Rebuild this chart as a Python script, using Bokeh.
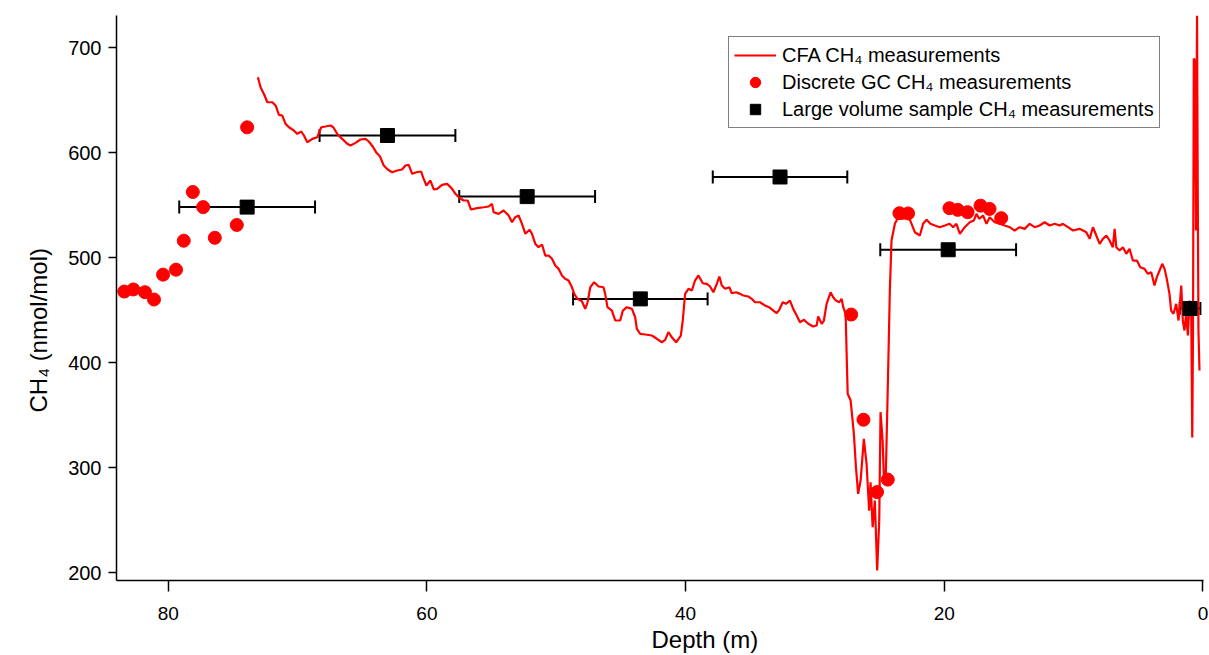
from bokeh.plotting import figure
from bokeh.models import (ColumnDataSource, Range1d, FixedTicker, Legend, LegendItem,
                          Whisker, TeeHead, Title)
from bokeh.embed import file_html
from bokeh.resources import INLINE

# --- CFA continuous CH4 record (depth in m, CH4 in nmol/mol) ---
cfa_depth = [
    73.07, 72.86, 72.55, 72.34, 71.95, 71.70, 71.44, 71.18, 70.93, 70.67,
    70.29, 70.02, 69.71, 69.51, 69.25, 68.86, 68.48, 68.17, 67.84, 67.45,
    67.24, 66.89, 66.55, 66.16, 65.91, 65.52, 65.14, 64.75, 64.49, 64.15,
    63.90, 63.64, 63.34, 63.03, 62.69, 62.30, 61.92, 61.66, 61.41, 61.14,
    60.81, 60.45, 60.25, 60.04, 59.73, 59.47, 59.21, 58.83, 58.44, 58.05,
    57.80, 57.54, 57.16, 56.85, 56.59, 56.12,
    55.61, 55.23, 54.97, 54.84, 54.46, 54.07, 53.68, 53.42, 53.17, 52.91,
    52.65, 52.39, 52.06, 51.88, 51.62, 51.37, 51.10, 50.85, 50.59, 50.33,
    50.08, 49.82, 49.56, 49.31, 49.05, 48.79, 48.61, 48.36, 48.02, 47.76,
    47.58, 47.37, 47.07, 46.73, 46.35, 46.22, 46.04, 45.70, 45.44, 45.06,
    44.85, 44.54, 44.15, 43.90, 43.77, 43.51, 43.13, 42.61, 42.22, 41.84,
    41.58, 41.33, 41.07, 40.73, 40.37, 40.22, 40.04, 39.78, 39.52, 39.27,
    39.01,
    38.67, 38.36, 38.11, 37.85, 37.59, 37.39, 37.20, 36.95, 36.62, 36.43,
    36.10, 35.79, 35.54, 35.15, 34.89, 34.63, 34.25, 33.86, 33.47, 33.22,
    32.96, 32.76, 32.49, 32.24, 31.93, 31.68, 31.41, 31.16, 30.85, 30.52,
    30.13, 29.87, 29.75, 29.48, 29.31, 29.10, 28.79, 28.59, 28.38, 28.12,
    27.94, 27.81, 27.63, 27.47, 27.24, 27.09, 26.99, 26.83, 26.66, 26.47,
    26.22, 26.01, 25.88, 25.81, 25.70, 25.54, 25.37, 25.19, 25.03, 24.93,
    24.77, 24.67, 24.52, 24.34, 24.21, 24.08,
    23.82, 23.57, 23.18, 22.80, 22.53, 22.28, 21.89, 21.64, 21.37, 21.07,
    20.73, 20.35, 19.96, 19.58, 19.32, 19.06, 18.80, 18.42, 18.03, 17.72,
    17.51, 17.31, 17.00, 16.74, 16.49, 16.10, 15.71, 15.33, 14.94, 14.56,
    14.17, 13.78, 13.40, 13.01, 12.63, 12.24, 11.85, 11.47, 11.08,
    10.83, 10.44, 10.05, 9.54, 9.02, 8.76, 8.51, 8.25, 7.99, 7.74,
    7.47, 7.22, 6.97, 6.83, 6.70, 6.45, 6.19, 5.93, 5.68, 5.42,
    5.11, 4.85, 4.52, 4.26, 4.00, 3.75, 3.57, 3.36, 3.15, 2.97,
    2.80, 2.59, 2.46, 2.28, 2.07, 1.89, 1.68, 1.56, 1.43, 1.30,
    1.17, 1.04, 0.91, 0.83, 0.77, 0.71, 0.62, 0.54, 0.46, 0.40,
    0.35, 0.27,
]
cfa_ch4 = [
    671.7, 662.2, 654.3, 647.9, 647.9, 644.8, 635.9, 635.2, 627.3, 624.1,
    621.0, 617.8, 620.0, 616.2, 609.8, 613.0, 614.6, 624.1, 624.8, 625.7,
    624.1, 616.9, 613.0, 608.3, 606.7, 609.2, 612.4, 613.0, 610.5, 605.0,
    599.7, 596.5, 587.6, 583.8, 581.2, 582.9, 583.8, 587.6, 588.3, 579.7,
    581.2, 581.9, 574.9, 568.6, 573.3, 564.8, 565.4, 569.2, 570.2, 565.4,
    560.7, 557.4, 554.3, 554.3, 545.7, 547.0,
    547.9, 548.6, 551.1, 543.1, 541.6, 544.8, 540.0, 533.6, 538.4, 540.0,
    532.1, 522.6, 526.4, 522.6, 513.0, 509.8, 512.4, 501.9, 501.9, 498.8,
    492.4, 489.2, 482.9, 479.7, 478.1, 471.7, 465.4, 460.7, 458.4, 451.1,
    457.4, 471.7, 476.5, 472.4, 471.7, 465.4, 452.7, 449.5, 440.0, 440.0,
    449.5, 452.7, 451.1, 443.1, 432.1, 427.3, 426.7, 425.7, 422.6, 419.3,
    421.6, 428.9, 424.1, 419.3, 425.7, 440.0, 465.4, 470.2, 468.6, 478.1,
    482.9,
    475.5, 474.9, 472.4, 466.9, 474.9, 481.9, 473.3, 470.2, 471.7, 466.0,
    466.9, 465.4, 463.8, 462.9, 460.7, 457.4, 457.4, 454.3, 452.1, 449.5,
    447.0, 450.2, 457.4, 455.9, 459.0, 451.1, 444.8, 438.4, 440.7, 436.9,
    434.3, 435.2, 443.8, 436.9, 440.0, 455.9, 466.9, 462.2, 459.0, 457.4,
    460.7, 452.7, 446.4, 370.2, 363.8, 344.8, 332.1, 300.3, 274.9, 287.6,
    327.3, 303.5, 274.9, 259.0, 286.0, 243.1, 268.6, 201.9, 249.5, 352.7,
    325.7, 290.8, 294.0, 392.4, 468.6, 516.2,
    532.1, 538.4, 536.9, 540.0, 532.1, 524.1, 521.0, 532.1, 535.9, 532.1,
    530.5, 528.9, 530.5, 532.1, 528.9, 532.1, 522.6, 528.9, 533.6, 535.2,
    541.6, 536.9, 540.0, 532.1, 538.4, 533.6, 532.1, 530.5, 528.9, 525.7,
    528.9, 527.3, 532.1, 528.9, 530.5, 533.6, 530.5, 532.1, 530.5,
    532.1, 528.9, 525.7, 527.3, 524.1, 517.8, 528.9, 521.0, 513.0, 517.8,
    521.0, 516.2, 509.8, 527.3, 509.8, 506.7, 509.8, 503.5, 508.3, 497.1,
    497.1, 490.8, 489.2, 484.5, 486.0, 473.3, 481.2, 487.6, 494.0, 489.2,
    479.7, 465.4, 449.5, 446.4, 455.9, 440.0, 473.3, 440.0, 430.5, 446.4,
    425.7, 459.0, 449.5, 328.6, 430.5, 689.5, 687.6, 525.7, 730.5, 554.3,
    430.5, 392.4,
]

# --- Discrete GC measurements ---
gc_depth = [83.4, 82.7, 81.8, 81.1, 80.4, 79.4, 78.8, 78.1, 77.3, 76.4, 74.7, 73.9,
            27.2, 26.25, 25.2, 24.37,
            23.47, 22.8, 19.6, 18.96, 18.2, 17.2, 16.5, 15.6]
gc_ch4 = [467.6, 469.6, 467.0, 460.0, 483.7, 488.4, 516.0, 562.4, 548.0, 518.8, 531.0, 624.0,
          445.7, 345.5, 276.6, 288.5,
          542.2, 542.0, 547.0, 545.4, 543.2, 549.4, 546.3, 537.5]

# --- Large volume samples, with depth span of each sample ---
lv_depth = [73.9, 63.05, 52.25, 43.5, 32.7, 19.7, 1.0]
lv_ch4 = [548.0, 616.2, 558.0, 460.6, 576.7, 507.4, 451.4]
lv_span = [5.25, 5.25, 5.25, 5.2, 5.2, 5.25, 0.8]

y_ticks = [200, 300, 400, 500, 600, 700]
x_ticks = [80, 60, 40, 20, 0]

FONT = "Liberation Sans"
RED = "#ff0000"

p = figure(width=1209, height=655, output_backend="svg", toolbar_location=None,
           x_range=Range1d(84.0, -0.04), y_range=Range1d(192.4, 730.5),
           min_border_left=116, min_border_right=6, min_border_top=15,
           min_border_bottom=75)
p.outline_line_color = None
p.grid.visible = False
p.background_fill_color = "white"
p.border_fill_color = "white"

for ax in (p.xaxis[0], p.yaxis[0]):
    ax.axis_line_color = "black"
    ax.axis_line_width = 1.5
    ax.major_tick_line_color = "black"
    ax.major_tick_line_width = 1.5
    ax.major_tick_in = 0
    ax.minor_tick_line_color = None
    ax.major_label_text_font = FONT
    ax.major_label_text_color = "black"

p.xaxis.ticker = FixedTicker(ticks=x_ticks)
p.yaxis.ticker = FixedTicker(ticks=y_ticks)
p.xaxis.major_tick_out = 11
p.yaxis.major_tick_out = 8
p.xaxis.major_label_text_font_size = "19px"
p.yaxis.major_label_text_font_size = "20px"
p.xaxis.major_label_standoff = 15
p.yaxis.major_label_standoff = 7

# axis titles, set a little off-centre along their axes
x_title = Title(text="Depth (m)", align="left", offset=535, standoff=2,
                text_font=FONT, text_font_size="24px", text_font_style="normal",
                text_color="black")
p.add_layout(x_title, "below")
y_title = Title(text="CH₄ (nmol/mol)", align="left", offset=168, standoff=28,
                text_font=FONT, text_font_size="24px", text_font_style="normal",
                text_color="black")
p.add_layout(y_title, "left")

cfa_src = ColumnDataSource(dict(depth=cfa_depth, ch4=cfa_ch4))
gc_src = ColumnDataSource(dict(depth=gc_depth, ch4=gc_ch4))
lv_src = ColumnDataSource(dict(
    depth=lv_depth, ch4=lv_ch4,
    lo=[d + s for d, s in zip(lv_depth, lv_span)],
    hi=[d - s for d, s in zip(lv_depth, lv_span)],
))

cfa_r = p.line("depth", "ch4", source=cfa_src, line_color=RED, line_width=2.2)
gc_r = p.scatter("depth", "ch4", source=gc_src, marker="circle", size=13,
                 fill_color=RED, line_color=RED)

whisk = Whisker(source=lv_src, base="ch4", lower="lo", upper="hi", dimension="width",
                line_color="black", line_width=2,
                upper_head=TeeHead(size=13, line_color="black", line_width=2),
                lower_head=TeeHead(size=13, line_color="black", line_width=2))
p.add_layout(whisk)
lv_r = p.scatter("depth", "ch4", source=lv_src, marker="square", size=14,
                 fill_color="black", line_color="black")

legend = Legend(items=[
    LegendItem(label="CFA CH₄ measurements", renderers=[cfa_r]),
    LegendItem(label="Discrete GC CH₄ measurements", renderers=[gc_r]),
    LegendItem(label="Large volume sample CH₄ measurements", renderers=[lv_r]),
], location=(612, 452))
legend.label_text_font = FONT
legend.label_text_font_size = "20px"
legend.label_text_color = "black"
legend.label_height = 26
legend.glyph_height = 26
legend.glyph_width = 42
legend.label_standoff = 6
legend.spacing = 1
legend.padding = 5
legend.margin = 0
legend.border_line_color = "black"
legend.border_line_width = 1.5
legend.background_fill_alpha = 1.0
p.add_layout(legend, "center")

open("out.html", "w").write(file_html(p, INLINE))
